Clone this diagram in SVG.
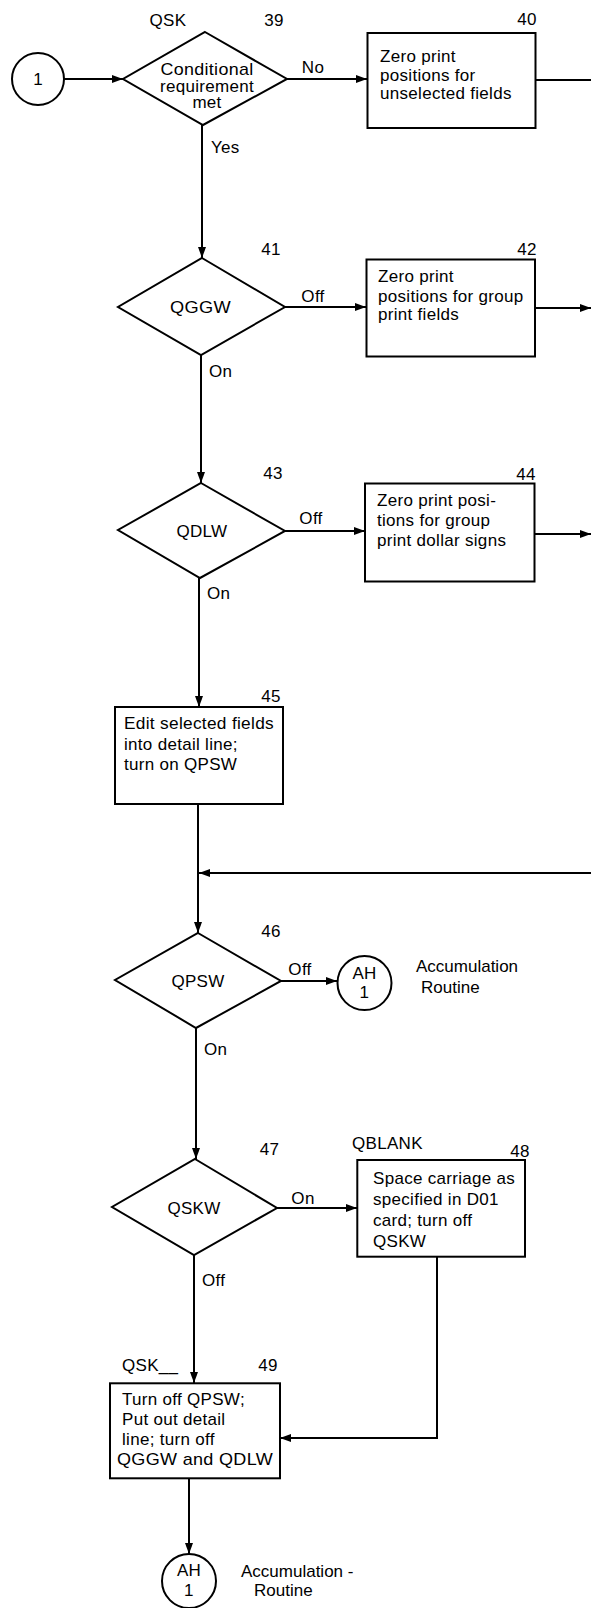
<svg xmlns="http://www.w3.org/2000/svg" width="591" height="1608" viewBox="0 0 591 1608">
<style>
text{font-family:"Liberation Sans",Arial,sans-serif;font-size:17px;fill:#000;letter-spacing:0.3px}
.m{text-anchor:middle}
.n{letter-spacing:0}
.s{fill:#fff;stroke:#000;stroke-width:2}
.c{fill:none;stroke:#000;stroke-width:2}
</style>
<defs>
<marker id="a" markerWidth="12" markerHeight="10" refX="11" refY="5" orient="auto" markerUnits="userSpaceOnUse">
<path d="M0,1 L11,5 L0,9 Z" fill="#000"/>
</marker>
</defs>
<rect width="591" height="1608" fill="#fff"/>
<g id="connectors">
<line class="c" x1="64" y1="79" x2="123" y2="79" marker-end="url(#a)"/>
<line class="c" x1="287" y1="79" x2="367" y2="79" marker-end="url(#a)"/>
<line class="c" x1="536" y1="80" x2="591" y2="80"/>
<line class="c" x1="202" y1="125" x2="202" y2="258" marker-end="url(#a)"/>
<line class="c" x1="285" y1="307" x2="366" y2="307" marker-end="url(#a)"/>
<line class="c" x1="535" y1="308" x2="591" y2="308" marker-end="url(#a)"/>
<line class="c" x1="201" y1="355" x2="201" y2="483" marker-end="url(#a)"/>
<line class="c" x1="285" y1="531" x2="365" y2="531" marker-end="url(#a)"/>
<line class="c" x1="535" y1="534" x2="591" y2="534" marker-end="url(#a)"/>
<line class="c" x1="199" y1="578" x2="199" y2="707" marker-end="url(#a)"/>
<line class="c" x1="198" y1="804" x2="198" y2="933" marker-end="url(#a)"/>
<line class="c" x1="591" y1="873" x2="199" y2="873" marker-end="url(#a)"/>
<line class="c" x1="281" y1="981" x2="337" y2="981" marker-end="url(#a)"/>
<line class="c" x1="196" y1="1028" x2="196" y2="1159" marker-end="url(#a)"/>
<line class="c" x1="277" y1="1208" x2="357" y2="1208" marker-end="url(#a)"/>
<polyline class="c" points="437,1257 437,1438 280,1438" marker-end="url(#a)"/>
<line class="c" x1="194" y1="1255" x2="194" y2="1383" marker-end="url(#a)"/>
<line class="c" x1="189" y1="1478" x2="189" y2="1554" marker-end="url(#a)"/>
</g>
<g id="labels">
<text x="313" y="73" class="m">No</text>
<text x="211" y="153">Yes</text>
<text x="313" y="302" class="m">Off</text>
<text x="209" y="377">On</text>
<text x="311" y="524" class="m">Off</text>
<text x="207" y="599">On</text>
<text x="300" y="975" class="m">Off</text>
<text x="204" y="1055">On</text>
<text x="303" y="1204" class="m">On</text>
<text x="202" y="1286">Off</text>
</g>
<g id="n1">
<circle class="s" cx="38" cy="79" r="26"/>
<text x="38" y="85" class="m n">1</text>
</g>
<g id="n39">
<polygon class="s" points="205,32 287,79 203,125 123,79"/>
<text x="168" y="26" class="m">QSK</text>
<text x="274" y="26" class="m">39</text>
<text x="160.5" y="75" textLength="93" lengthAdjust="spacingAndGlyphs">Conditional</text>
<text x="160" y="91.5" textLength="94" lengthAdjust="spacingAndGlyphs">requirement</text>
<text x="207" y="107.5" class="m">met</text>
</g>
<g id="n40">
<rect class="s" x="367.5" y="33" width="168" height="95"/>
<text x="527" y="25" class="m">40</text>
<text x="380" y="62">Zero print</text>
<text x="380" y="80.5">positions for</text>
<text x="380" y="99">unselected fields</text>
</g>
<g id="n41">
<polygon class="s" points="202,258 285,307 201,355 118,307"/>
<text x="271" y="255" class="m">41</text>
<text x="170" y="313" textLength="61" lengthAdjust="spacingAndGlyphs">QGGW</text>
</g>
<g id="n42">
<rect class="s" x="366.5" y="259.5" width="168.5" height="97"/>
<text x="527" y="255" class="m">42</text>
<text x="378" y="282">Zero print</text>
<text x="378" y="301.5">positions for group</text>
<text x="378" y="320">print fields</text>
</g>
<g id="n43">
<polygon class="s" points="201,483 285,531 200,578 118,530"/>
<text x="273" y="479" class="m">43</text>
<text x="202" y="537" class="m">QDLW</text>
</g>
<g id="n44">
<rect class="s" x="365" y="483.5" width="169.5" height="98"/>
<text x="526" y="480" class="m">44</text>
<text x="377" y="506">Zero print posi-</text>
<text x="377" y="526">tions for group</text>
<text x="377" y="546">print dollar signs</text>
</g>
<g id="n45">
<rect class="s" x="115" y="707" width="168" height="97"/>
<text x="271" y="702" class="m">45</text>
<text x="124" y="729" textLength="150" lengthAdjust="spacingAndGlyphs">Edit selected fields</text>
<text x="124" y="750">into detail line;</text>
<text x="124" y="770">turn on QPSW</text>
</g>
<g id="n46">
<polygon class="s" points="198,933 281,981 196,1028 115,980"/>
<text x="271" y="937" class="m">46</text>
<text x="198" y="987" class="m">QPSW</text>
</g>
<g id="ah1">
<circle class="s" cx="364.5" cy="983" r="27"/>
<text x="364.5" y="979" class="m">AH</text>
<text x="364.5" y="998" class="m">1</text>
<text x="416" y="972" class="n">Accumulation</text>
<text x="421" y="993" class="n">Routine</text>
</g>
<g id="n47">
<polygon class="s" points="195,1159 277,1208 194,1255 112,1207"/>
<text x="269.5" y="1155" class="m">47</text>
<text x="194" y="1214" class="m">QSKW</text>
</g>
<g id="n48">
<rect class="s" x="357.3" y="1160" width="167.7" height="96.7"/>
<text x="352" y="1149">QBLANK</text>
<text x="520" y="1157" class="m">48</text>
<text x="373" y="1184">Space carriage as</text>
<text x="373" y="1205">specified in D01</text>
<text x="373" y="1226">card; turn off</text>
<text x="373" y="1247">QSKW</text>
</g>
<g id="n49">
<rect class="s" x="110" y="1383.3" width="170" height="95"/>
<text x="122" y="1371">QSK__</text>
<text x="268" y="1371" class="m">49</text>
<text x="122" y="1405">Turn off QPSW;</text>
<text x="122" y="1425">Put out detail</text>
<text x="122" y="1445">line; turn off</text>
<text x="117" y="1465" textLength="156" lengthAdjust="spacingAndGlyphs">QGGW and QDLW</text>
</g>
<g id="ah2">
<circle class="s" cx="189" cy="1581" r="27"/>
<text x="189" y="1576" class="m">AH</text>
<text x="189" y="1596" class="m">1</text>
<text x="241" y="1577" class="n">Accumulation -</text>
<text x="254" y="1596" class="n">Routine</text>
</g>
</svg>
